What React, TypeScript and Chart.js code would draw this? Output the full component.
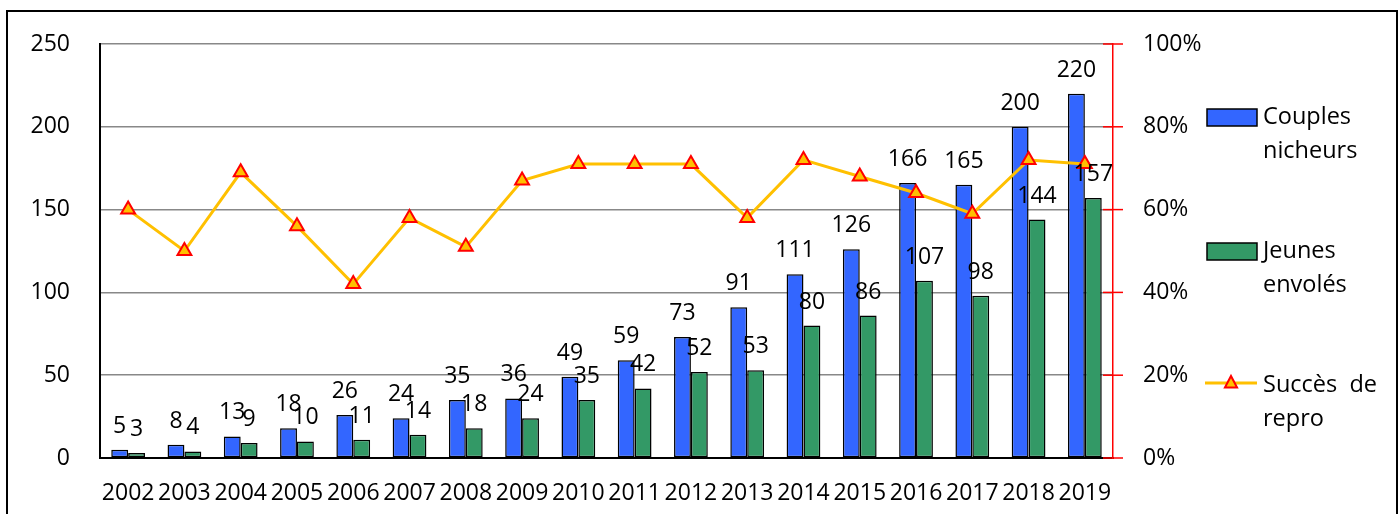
import React, { useEffect, useRef } from "react";
import { Chart, registerables } from "chart.js";

Chart.register(...registerables);

const years = ["2002","2003","2004","2005","2006","2007","2008","2009","2010","2011","2012","2013","2014","2015","2016","2017","2018","2019"];
const couples = [5, 8, 13, 18, 26, 24, 35, 36, 49, 59, 73, 91, 111, 126, 166, 165, 200, 220];
const jeunes = [3, 4, 9, 10, 11, 14, 18, 24, 35, 42, 52, 53, 80, 86, 107, 98, 144, 157];
const succes = [60, 50, 69, 56, 42, 58, 51, 67, 71, 71, 71, 58, 72, 68, 64, 59, 72, 71];
const legendLines = [["Couples", "nicheurs"], ["Jeunes", "envolés"], ["Succès  de", "repro"]];

const FONT = "'Open Sans', 'Noto Sans', sans-serif";
const BLUE = "#3366FF";
const GREEN = "#339966";
const YELLOW = "#FFC000";
const RED = "#FF0000";

const extrasPlugin = {
  id: "extras",
  beforeDraw(chart: any) {
    const ctx = chart.ctx;
    ctx.save();
    ctx.fillStyle = "#fff";
    ctx.fillRect(0, 0, chart.width, chart.height);
    ctx.restore();
  },
  afterDatasetsDraw(chart: any) {
    const ctx = chart.ctx;
    ctx.save();
    // data labels
    ctx.font = `23px ${FONT}`;
    ctx.fillStyle = "#000";
    ctx.textAlign = "center";
    ctx.textBaseline = "alphabetic";
    [0, 1].forEach((di) => {
      const meta = chart.getDatasetMeta(di);
      const ds = chart.data.datasets[di];
      meta.data.forEach((el: any, i: number) => {
        ctx.fillText(String(ds.data[i]), el.x, el.y - 17);
      });
    });
    // right axis red ticks crossing the axis
    const y1 = chart.scales.y1;
    ctx.strokeStyle = RED;
    ctx.lineWidth = 1.5;
    y1.ticks.forEach((t: any) => {
      const yy = y1.getPixelForValue(t.value);
      ctx.beginPath();
      ctx.moveTo(y1.left - 10, yy);
      ctx.lineTo(y1.left + 10, yy);
      ctx.stroke();
    });
    ctx.restore();
  },
  afterDraw(chart: any) {
    const ctx = chart.ctx;
    ctx.save();
    // legend
    const ds = chart.data.datasets;
    const bx = 1207;
    const tx = 1263;
    const rows = [117, 251, 385];
    ctx.font = `23.5px ${FONT}`;
    ctx.textAlign = "left";
    ctx.textBaseline = "middle";
    ctx.fillStyle = "#000";
    [0, 1].forEach((i) => {
      ctx.fillStyle = ds[i].backgroundColor;
      ctx.fillRect(bx, rows[i] - 8, 50, 17);
      ctx.strokeStyle = "#000";
      ctx.lineWidth = 1.5;
      ctx.strokeRect(bx, rows[i] - 8, 50, 17);
    });
    ctx.strokeStyle = YELLOW;
    ctx.lineWidth = 3;
    ctx.beginPath();
    ctx.moveTo(1205, rows[2] - 2);
    ctx.lineTo(1257, rows[2] - 2);
    ctx.stroke();
    // triangle marker
    const cx = 1231, cy = rows[2] - 2, r = 7;
    ctx.beginPath();
    ctx.moveTo(cx, cy - r);
    ctx.lineTo(cx + r * 0.866, cy + r * 0.5 + 1);
    ctx.lineTo(cx - r * 0.866, cy + r * 0.5 + 1);
    ctx.closePath();
    ctx.fillStyle = YELLOW;
    ctx.fill();
    ctx.strokeStyle = RED;
    ctx.lineWidth = 2;
    ctx.stroke();
    ctx.fillStyle = "#000";
    legendLines.forEach((lines, i) => {
      lines.forEach((s, j) => {
        ctx.fillText(s, tx, rows[i] + j * 34);
      });
    });
    // frame
    ctx.strokeStyle = "#000";
    ctx.lineWidth = 2;
    ctx.strokeRect(7, 11, 1390, 600);
    ctx.restore();
  },
};

export default function App() {
  const ref = useRef<HTMLCanvasElement | null>(null);
  useEffect(() => {
    if (!ref.current) return;
    const chart = new Chart(ref.current, {
      type: "bar",
      data: {
        labels: years,
        datasets: [
          {
            type: "bar",
            label: "Couples nicheurs",
            data: couples,
            backgroundColor: BLUE,
            borderColor: "#000",
            borderWidth: 1.5,
            borderSkipped: false,
            yAxisID: "y",
            order: 2,
            categoryPercentage: 0.6,
            barPercentage: 1,
          },
          {
            type: "bar",
            label: "Jeunes envolés",
            data: jeunes,
            backgroundColor: GREEN,
            borderColor: "#000",
            borderWidth: 1.5,
            borderSkipped: false,
            yAxisID: "y",
            order: 2,
            categoryPercentage: 0.6,
            barPercentage: 1,
          },
          {
            type: "line",
            label: "Succès de repro",
            data: succes,
            borderColor: YELLOW,
            borderWidth: 3,
            backgroundColor: YELLOW,
            pointStyle: "triangle",
            pointRadius: 8,
            pointBackgroundColor: YELLOW,
            pointBorderColor: RED,
            pointBorderWidth: 2,
            tension: 0,
            yAxisID: "y1",
            order: 0,
          },
        ] as any,
      },
      options: {
        responsive: false,
        animation: false,
        layout: { padding: { top: 44, left: 0, right: 0, bottom: 0 } },
        plugins: {
          legend: { display: false },
          tooltip: { enabled: false },
          title: { display: false },
        },
        scales: {
          x: {
            grid: { display: false, drawTicks: false },
            border: { display: true, color: "#000", width: 2 },
            ticks: {
              color: "#000",
              font: { family: FONT, size: 23 },
              padding: 22,
              maxRotation: 0,
              autoSkip: false,
            },
            afterFit(scale: any) {
              scale.height = 56;
            },
          },
          y: {
            position: "left",
            min: 0,
            max: 250,
            ticks: {
              stepSize: 50,
              color: "#000",
              font: { family: FONT, size: 23 },
              padding: 30,
            },
            grid: { color: "#888", lineWidth: 1.5, drawTicks: false },
            border: { display: true, color: "#000", width: 2 },
            afterFit(scale: any) {
              scale.width = 100;
            },
          },
          y1: {
            position: "right",
            min: 0,
            max: 100,
            ticks: {
              stepSize: 20,
              color: "#000",
              font: { family: FONT, size: 23 },
              padding: 30,
              callback: (v: any) => v + "%",
            },
            grid: { display: false, drawOnChartArea: false, drawTicks: false },
            border: { display: true, color: RED, width: 1.5 },
            afterFit(scale: any) {
              scale.width = 287;
            },
          },
        },
      } as any,
      plugins: [extrasPlugin],
    });
    return () => chart.destroy();
  }, []);
  return (
    <div style={{ position: "fixed", left: 0, top: 0, width: 1400, height: 514 }}>
      <canvas ref={ref} width={1400} height={514} style={{ display: "block" }} />
    </div>
  );
}
